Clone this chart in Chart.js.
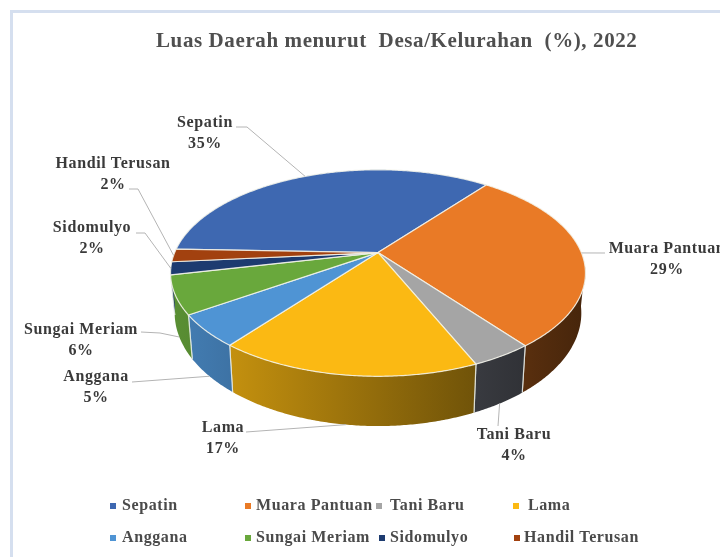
<!DOCTYPE html>
<html>
<head>
<meta charset="utf-8">
<title>Luas Daerah</title>
<script src="https://cdn.jsdelivr.net/npm/chart.js@4"></script>
<style>
    html, body { margin: 0; padding: 0; background: #fff; }
    #frame { position: absolute; left: 10px; top: 10px; width: 710px; height: 547px;
             border-left: 3px solid #d5dfef; border-top: 3px solid #d5dfef; box-sizing: border-box; }
    #chart { position: absolute; left: 0; top: 0; }
</style>
</head>
<body>
<div id="frame"></div>
<canvas id="chart" width="720" height="557"></canvas>
<script>
const titleText = 'Luas Daerah menurut  Desa/Kelurahan  (%), 2022';
const villages = ['Sepatin', 'Muara Pantuan', 'Tani Baru', 'Lama', 'Anggana', 'Sungai Meriam', 'Sidomulyo', 'Handil Terusan'];
const shares = [35, 29, 4, 17, 5, 6, 2, 2];
const colors = ['#3e68b1', '#e97a26', '#a5a5a5', '#fbb913', '#4f94d4', '#69a83c', '#1d3b70', '#a2410f'];
const wallColors = ['#3e68b1', '#e97a26', '#7e828e', '#fbb913', '#4f94d4', '#69a83c', '#1d3b70', '#a2410f'];

const textFont = 'bold 16px "Liberation Serif"';
const textColor = '#3a3a3a';
const leaderColor = '#b4b4b4';

// callout text centres and leader routes, same order as villages
const callouts = [
    { x: 205, y: 123, from: [236, 127], elbow: [247, 127] },
    { x: 667, y: 249, from: [605, 253], elbow: null },
    { x: 514, y: 435, from: [498, 426], elbow: null, onWall: true },
    { x: 223, y: 428, from: [246, 432], elbow: null, onWall: true },
    { x: 96, y: 377, from: [132, 382], elbow: null, onWall: true },
    { x: 81, y: 330, from: [141, 332], elbow: [160, 333], onWall: true },
    { x: 92, y: 228, from: [136, 233], elbow: [145, 233] },
    { x: 113, y: 164, from: [129, 189], elbow: [138, 189] },
];

// legend rows and columns
const legendSpots = [
    [110, 122, 506], [245, 256, 506], [376, 390, 506], [513, 528, 506],
    [110, 122, 538], [245, 256, 538], [379, 390, 538], [514, 524, 538],
];

const tilt = { perspective: 0.198, squash: 0.5, widen: 1.025, wallScaleX: 0.98, wallScaleY: 1.095, wallDrop: 38 };
const rad = Math.PI / 180;

// top face point for an arc angle, nearer points come out larger
function topPoint(arc, t) {
    const u = Math.cos(t), v = Math.sin(t);
    const w = 1 - tilt.perspective * v;
    return [
        arc.x + arc.outerRadius * tilt.widen * u / w,
        arc.y + arc.outerRadius * tilt.squash * v / w,
    ];
}

function bottomPoint(arc, t) {
    const p = topPoint(arc, t);
    return [
        arc.x + tilt.wallScaleX * (p[0] - arc.x),
        arc.y + tilt.wallScaleY * (p[1] - arc.y) + tilt.wallDrop,
    ];
}

function shade(hex, f) {
    const n = parseInt(hex.slice(1), 16);
    return 'rgb(' + [(n >> 16) & 255, (n >> 8) & 255, n & 255].map(c => Math.round(c * f)).join(',') + ')';
}

function drawWall(ctx, arc, color) {
    const t0 = Math.max(arc.startAngle, 8 * rad);
    const t1 = Math.min(arc.endAngle, 172 * rad);
    if (t1 <= t0) return;
    const grad = ctx.createLinearGradient(arc.x - 208, 0, arc.x + 207, 0);
    grad.addColorStop(0, shade(color, 0.86));
    grad.addColorStop(1, shade(color, 0.3));
    ctx.beginPath();
    for (let t = t0; t < t1; t += rad / 2) ctx.lineTo(...topPoint(arc, t));
    ctx.lineTo(...topPoint(arc, t1));
    for (let t = t1; t > t0; t -= rad / 2) ctx.lineTo(...bottomPoint(arc, t));
    ctx.lineTo(...bottomPoint(arc, t0));
    ctx.closePath();
    ctx.fillStyle = grad;
    ctx.fill();
    // pale seam where two wall pieces meet
    ctx.strokeStyle = 'rgba(235,240,235,0.8)';
    ctx.lineWidth = 1.2;
    [arc.startAngle, arc.endAngle].forEach(t => {
        if (t < 8 * rad || t > 172 * rad) return;
        ctx.beginPath();
        ctx.moveTo(...topPoint(arc, t));
        ctx.lineTo(...bottomPoint(arc, t));
        ctx.stroke();
    });
}

function drawTop(ctx, arc, color) {
    ctx.beginPath();
    ctx.moveTo(arc.x, arc.y);
    for (let t = arc.startAngle; t < arc.endAngle; t += rad / 2) ctx.lineTo(...topPoint(arc, t));
    ctx.lineTo(...topPoint(arc, arc.endAngle));
    ctx.closePath();
    ctx.fillStyle = color;
    ctx.fill();
    ctx.strokeStyle = 'rgba(245,245,235,0.85)';
    ctx.lineWidth = 1.2;
    ctx.lineJoin = 'round';
    ctx.stroke();
}

const tiltedPie = {
    id: 'tiltedPie',
    afterLayout(chart) {
        // the title box follows the layout padding and would squeeze the long title
        chart.titleBlock.right = 720;
    },
    beforeDraw(chart) {
        chart.ctx.letterSpacing = '0.6px';
    },
    beforeDatasetsDraw(chart) {
        const ctx = chart.ctx;
        const arcs = chart.getDatasetMeta(0).data;
        ctx.save();
        arcs.forEach((arc, i) => drawWall(ctx, arc, wallColors[i]));
        arcs.forEach((arc, i) => drawTop(ctx, arc, colors[i]));
        ctx.restore();
        return false;
    },
    afterDraw(chart) {
        const ctx = chart.ctx;
        const arcs = chart.getDatasetMeta(0).data;
        ctx.save();
        ctx.font = textFont;
        ctx.fillStyle = textColor;
        ctx.textBaseline = 'middle';
        ctx.textAlign = 'center';
        arcs.forEach((arc, i) => {
            const c = callouts[i];
            const mid = (arc.startAngle + arc.endAngle) / 2;
            const end = c.onWall ? bottomPoint(arc, mid) : topPoint(arc, mid);
            ctx.beginPath();
            ctx.moveTo(c.from[0], c.from[1]);
            if (c.elbow) ctx.lineTo(c.elbow[0], c.elbow[1]);
            ctx.lineTo(end[0], end[1]);
            ctx.strokeStyle = leaderColor;
            ctx.lineWidth = 1;
            ctx.stroke();
            ctx.fillText(villages[i], c.x, c.y);
            ctx.fillText(shares[i] + '%', c.x, c.y + 20.5);
        });
        ctx.textAlign = 'left';
        villages.forEach((name, i) => {
            const s = legendSpots[i];
            ctx.fillStyle = colors[i];
            ctx.fillRect(s[0], s[2] - 3, 6, 6);
            ctx.fillStyle = '#4a4a4a';
            ctx.fillText(name, s[1], s[2]);
        });
        ctx.restore();
    }
};

const chart_1 = new Chart(document.getElementById('chart'), {
    type: 'pie',
    data: {
        labels: villages,
        datasets: [{ data: shares, backgroundColor: colors, borderWidth: 0 }]
    },
    options: {
        responsive: false,
        animation: false,
        events: [],
        rotation: -88,
        layout: { padding: { left: 156, right: 120, top: 0, bottom: 106 } },
        plugins: {
            legend: { display: false },
            tooltip: { enabled: false },
            title: {
                display: true,
                text: titleText,
                align: 'start',
                color: '#4f4f4f',
                font: { family: '"Liberation Serif"', size: 21, weight: 'bold', lineHeight: 1.2 },
                padding: { top: 29, bottom: 0 }
            }
        }
    },
    plugins: [tiltedPie]
});
</script>
</body>
</html>
